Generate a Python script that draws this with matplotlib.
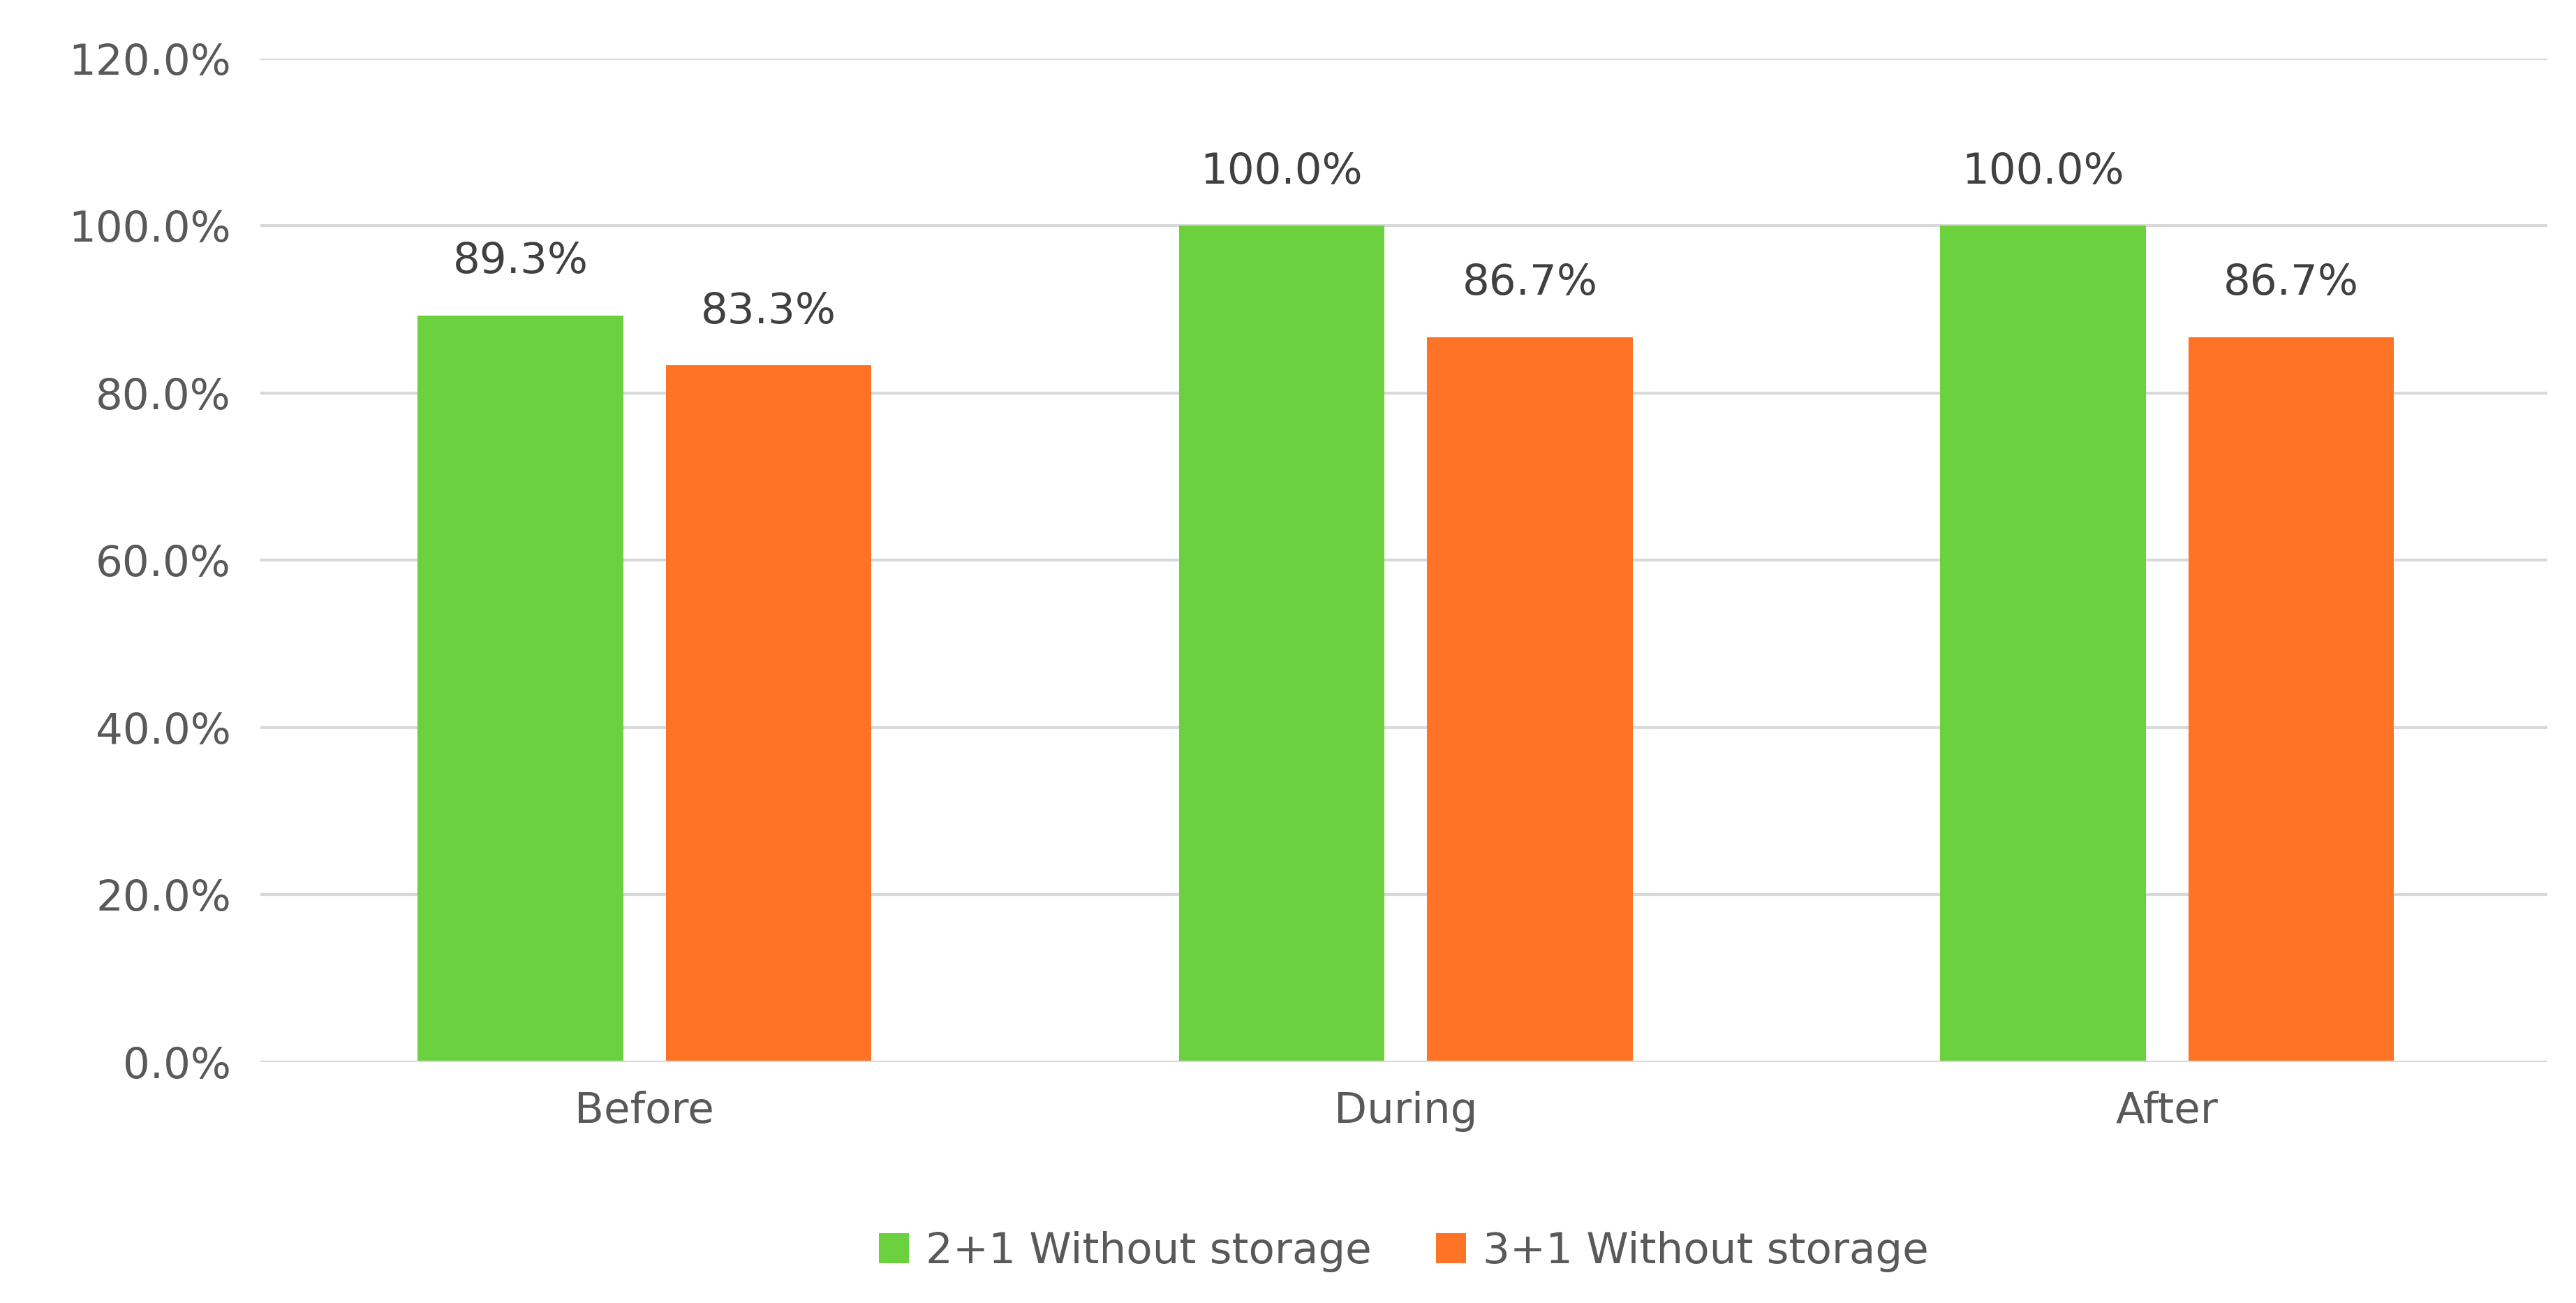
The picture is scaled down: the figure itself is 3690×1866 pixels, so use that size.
import numpy as np
import matplotlib
matplotlib.use('Agg')
import matplotlib.pyplot as plt

# ── 데이터 ──────────────────────────────────────────────
categories = ['Before', 'During', 'After']
series_names = ['2+1 Without storage', '3+1 Without storage']
green_vals = [89.3, 100.0, 100.0]
orange_vals = [83.3, 86.7, 86.7]
yticks = [0, 20, 40, 60, 80, 100, 120]

COLORS = ['#6CD13F', '#FF7327']
TXT = '#595959'

fig = plt.figure(figsize=(36.9, 18.66), dpi=100, facecolor='white')
ax = fig.add_axes([0.101, 0.185, 0.888, 0.770])

x = np.arange(len(categories))
w, off = 0.27, 0.163
for vals, sgn, clr, name in [(green_vals, -1, COLORS[0], series_names[0]),
                             (orange_vals, 1, COLORS[1], series_names[1])]:
    bars = ax.bar(x + sgn * off, vals, width=w, color=clr, label=name, zorder=3)
    for b, v in zip(bars, vals):
        ax.text(b.get_x() + b.get_width() / 2, v + 4, f'{v:.1f}%',
                ha='center', va='bottom', fontsize=44, color='#404040')

ax.set_xlim(-0.505, 2.5)
ax.set_ylim(0, 120)
ax.set_yticks(yticks)
ax.set_yticklabels([f'{v:.1f}%' for v in yticks], fontsize=44, color=TXT)
ax.set_xticks(x)
ax.set_xticklabels(categories, fontsize=44, color=TXT)
ax.tick_params(length=0, pad=30)
ax.grid(axis='y', color='#D9D9D9', lw=3, zorder=0)
for s in ax.spines.values():
    s.set_visible(False)
ax.axhline(0, color='#D9D9D9', lw=3, zorder=4)

ax.legend(loc='upper center', bbox_to_anchor=(0.5, -0.13), ncol=2, frameon=False,
          fontsize=44, labelcolor=TXT, handlelength=0.7, handleheight=0.7,
          columnspacing=1.5, handletextpad=0.4)

fig.savefig('out.png', dpi=100, facecolor='white')
